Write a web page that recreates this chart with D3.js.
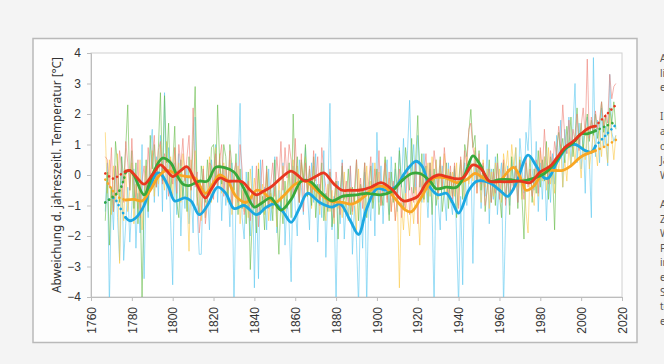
<!DOCTYPE html>
<html>
<head>
<meta charset="utf-8">
<script src="https://cdn.jsdelivr.net/npm/d3@7"></script>
<style>
  body { margin: 0; background: #f4f4f4; }
  svg { display: block; font-family: "Noto Sans", "Open Sans", sans-serif; }
</style>
</head>
<body>
<svg id="chart" width="664" height="364"></svg>
<script>

// first year of the annual series
const firstYear = 1767;

const xTicks = [1760, 1780, 1800, 1820, 1840, 1860, 1880, 1900, 1920, 1940, 1960, 1980, 2000, 2020];
const yTicks = [-4, -3, -2, -1, 0, 1, 2, 3, 4];
const yTitle = "Abweichung d. jahreszeitl. Temperatur [°C]";

// annual values 1767..2017 (rough)
const rawRed = [
  0.6, 0.5, -0.4, 0.9, -1.2, 0.3, -0.6, 0.8, 0.2, -0.9,
  1.1, 0.4, -0.5, 1.2, -0.3, -0.8, 0.5, -1.4, -0.2, 0.3,
  -0.6, 0.9, -0.1, 0.6, 1.3, -0.4, 0.8, 1.1, -0.3, 0.7,
  0.2, -0.7, 0.5, -0.3, 0.9, -0.6, 1.0, 0.3, 1.2, -0.2,
  0.6, 1.3, -0.5, 2.2, -0.4, 0.1, -1.9, -1.2, 0.2, -1.6,
  -0.9, 0.4, 0.3, -0.8, 0.7, -0.4, 0.5, 1.0, -0.7, 0.3,
  -0.5, 0.8, -1.1, 0.1, 0.4, -0.9, 1.0, 0.2, -1.3, -0.8,
  -0.2, -1.5, -0.6, -1.0, 0.3, -1.7, -0.4, 0.5, -0.9, 0.2,
  -1.1, -0.3, 0.4, -0.7, 0.6, -0.2, 1.1, -0.5, 0.9, -0.1,
  1.0, 0.5, -0.6, 1.2, -0.3, -0.9, 0.7, -1.2, 0.4, -0.5,
  0.3, -0.6, 0.8, -0.2, 0.6, -1.0, 0.9, 0.1, -0.4, -1.1,
  0.2, -0.9, -1.4, 0.1, -0.6, -1.3, 0.4, -0.8, -0.2, -1.0,
  0.3, -1.2, -0.4, 0.5, -0.9, -0.1, -1.1, 0.4, -0.7, -0.2,
  0.6, -0.8, 0.2, -0.5, 0.8, -1.0, -0.3, 0.4, -0.9, 0.1,
  -1.2, -0.2, -1.5, -0.6, 0.2, -1.4, -0.8, -1.1, 0.3, -1.3,
  -0.4, -0.9, 0.5, -1.6, 0.1, -0.6, -0.1, 0.7, -0.5, 0.4,
  -0.3, 0.8, 0.2, -0.6, 0.5, -0.4, 0.9, 0.1, -0.7, 0.3,
  -0.8, 0.4, -0.5, -1.1, 0.6, -0.2, 0.8, 0.3, 1.5, 1.7,
  0.9, 0.5, -0.6, 0.7, -0.3, 0.4, -1.0, -0.5, 0.2, -0.9,
  0.1, -0.6, 0.4, -0.8, -0.2, 0.5, -1.0, 0.2, -0.7, -0.1,
  -0.5, 0.3, -0.9, 0.4, -0.3, -0.8, 0.6, -0.4, 0.2, -0.7,
  -0.2, 0.5, -0.6, 0.9, 0.1, 1.5, 0.4, -0.3, 0.8, 0.2,
  1.1, 0.6, 1.6, 0.9, 2.3, 1.2, 0.7, 1.8, 0.9, 1.5,
  1.1, 2.0, 0.8, 1.6, 2.2, 1.3, 3.8, 1.2, 1.9, 1.4,
  2.1, 1.5, 1.8, 2.4, 1.6, 2.0, 1.7, 3.3, 2.5, 2.9,
  3.0
];

const rawGreen = [
  -1.5, 0.1, -2.3, -0.4, -1.2, 1.1, 0.3, -0.9, 0.6, -0.2,
  0.9, 2.3, -0.5, 0.8, -1.1, 0.4, -1.6, -0.3, -4.0, -0.8,
  0.5, -1.2, 1.3, 0.2, 1.0, -0.4, 0.9, 2.7, -0.2, 2.6,
  0.4, 1.7, -0.6, 0.3, 1.6, -0.9, -1.4, 0.5, -0.8, 0.2,
  -1.2, 0.6, -0.5, 1.1, 2.9, -0.7, -1.3, 0.3, -0.4, -0.9,
  0.5, -0.6, 0.9, 1.0, -0.2, 2.3, 0.4, -0.3, 1.0, 0.6,
  -0.8, 1.0, 0.3, -0.5, 0.7, -1.3, 0.2, -1.1, -0.4, -1.6,
  0.1, -3.1, -1.4, -0.6, -1.9, 0.2, -1.3, -0.7, -1.8, 0.3,
  -1.0, -0.4, -1.5, 0.5, -1.3, -2.6, -0.8, -1.6, -0.2, -1.1,
  0.4, -1.4, 2.0, -0.3, 0.6, -0.9, 0.5, -0.2, 1.0, -0.7,
  0.2, -1.0, 0.6, -1.4, -0.3, -0.8, 0.4, -1.5, -0.6, -1.2,
  0.1, -1.7, -0.9, -0.2, -2.1, -0.5, 0.3, -1.2, -0.8, 0.2,
  -1.3, -0.4, -0.9, 0.5, -1.5, -0.3, -0.7, 0.4, -1.4, -0.6,
  0.3, -1.1, -0.5, 0.2, -1.3, -0.6, -1.0, 0.6, -0.4, -1.5,
  0.1, -0.9, 0.4, -0.6, 0.8, -0.3, -1.1, 0.9, 0.2, -0.5,
  1.2, -0.6, 0.5, 1.95, -0.4, 0.7, -0.8, 0.3, -0.9, 0.4,
  -1.3, 0.2, -1.0, -0.3, 0.6, -1.2, -0.5, 0.4, -1.1, 0.1,
  -0.7, 0.3, -1.4, -0.2, 0.5, -0.8, 1.0, 0.6, 1.4, 2.15,
  0.9, 1.3, -0.2, 0.8, -0.5, 0.3, -1.2, -0.4, 0.5, -0.9,
  0.2, -1.0, 0.7, -0.6, -1.4, 0.4, -0.8, 0.1, -1.3, 0.6,
  -0.5, 0.3, -1.1, 0.5, -0.7, -2.1, 0.4, -0.3, 0.6, -0.9,
  0.2, -0.6, 0.8, -0.4, 0.5, -0.2, 1.1, -0.8, 0.6, 0.1,
  -1.8, 0.9, 1.4, 0.7, 1.2, 0.4, 1.6, 0.9, 1.9, 0.6,
  1.3, 2.2, 1.0, 1.7, 0.8, 1.5, 2.0, 1.1, 1.8, 1.3,
  2.0, 1.2, 1.6, 2.4, 1.4, 1.9, 1.3, 2.2, 1.7, 2.4,
  1.5
];

const rawBlue = [
  -1.2, 0.4, -4.3, -0.5, -1.8, 0.3, -1.4, -2.8, 0.6, -2.8,
  -1.6, -0.4, -2.2, -1.0, 0.2, -2.4, -0.6, -1.9, 1.0, -3.4,
  -0.3, -1.4, 0.8, 1.5, -0.9, 0.6, -0.7, 1.3, -1.2, 2.7,
  -0.8, 0.9, -1.5, -3.6, 0.4, -1.3, 0.7, -2.0, -0.2, -1.1,
  0.3, -1.6, -0.5, -1.9, 1.9, -1.2, -2.6, -2.6, 0.2, -1.4,
  -0.6, -1.8, 0.5, -0.4, 1.0, -0.9, 0.6, -1.5, 0.3, -1.0,
  -0.2, -1.7, 0.4, -4.3, -0.8, 0.2, 2.35, -1.4, -2.1, 0.1,
  -0.9, -2.0, 0.3, -3.7, -0.6, -3.4, 0.5, -1.2, -0.4, -1.8,
  0.2, -1.5, -0.7, 0.6, -1.9, -0.5, -1.2, 0.4, -2.3, -0.8,
  -1.6, -3.5, 0.3, -1.1, -2.0, 0.5, -0.4, -1.3, 0.9, -0.6,
  -1.8, 0.4, -0.9, 0.7, -2.2, -0.3, -1.4, 0.8, -2.7, -0.5,
  2.35, -1.8, -0.7, -4.3, -0.2, -1.6, 0.5, -2.1, -0.9, -1.3,
  0.3, -2.6, -1.0, -2.2, -4.3, -0.8, -2.4, 0.1, -4.3, -0.6,
  -1.5, 0.4, -2.0, 1.4, -0.9, 0.3, -1.6, -0.1, 0.5, -1.3,
  0.6, -0.8, 0.2, -1.2, 0.9, -0.4, 1.2, -0.6, 0.8, 2.45,
  0.1, 1.0, -0.5, 1.3, 0.4, -0.9, 0.7, -0.3, -1.4, 0.2,
  -1.1, -4.3, 0.5, -0.9, -1.8, 0.3, -0.6, -1.5, 0.4, -0.8,
  -1.3, 0.2, -2.0, -4.3, -0.7, -3.6, 0.4, -1.0, -0.2, 0.6,
  -2.9, 0.8, -0.4, 0.5, -1.1, 0.3, -0.7, 1.0, -1.6, 0.2,
  -0.8, 0.6, -1.3, -0.2, 0.4, -4.3, -1.5, 0.3, -1.0, 0.5,
  -0.4, 0.9, -0.9, 1.2, 0.3, -0.6, 1.4, 0.8, 2.45, 0.2,
  -0.5, 1.1, -1.2, 0.4, -0.8, 0.6, -1.5, 0.2, -0.9, 0.7,
  -0.3, 1.3, 0.5, 1.8, -0.4, 1.5, 0.7, 1.9, 0.3, 1.6,
  3.0, 0.4, 1.7, 0.2, 1.3, -0.6, 1.9, 0.5, -1.4, 3.85,
  0.6, 1.8, 0.4, 2.2, 0.9, 1.6, 0.3, 3.3, 1.4, 1.1,
  1.3
];

const rawOrange = [
  1.4, -0.6, 0.5, -1.3, 0.3, -0.9, 0.7, -2.9, -0.4, -1.5,
  0.2, -1.2, -0.5, 0.4, -1.6, -0.3, -1.1, 0.5, -1.8, -0.6,
  0.3, -1.0, -0.2, 0.8, -0.7, 0.5, -0.3, 1.0, 0.2, -0.5,
  1.1, -0.4, 0.6, -0.8, 0.9, -0.2, 0.4, -0.9, 0.7, 0.1,
  -0.6, -2.5, 0.5, -0.3, 0.8, -1.0, -0.2, -1.5, 0.3, -1.4,
  -0.5, 0.6, -0.9, 0.2, 0.9, -0.4, 0.7, -0.6, 0.4, -0.2,
  -0.9, 0.5, -1.3, -0.2, -1.1, 0.3, -1.6, -0.5, -1.2, -0.3,
  -1.4, 0.2, -0.8, -0.1, -1.0, 0.4, -0.9, -0.3, -1.3, 0.1,
  -1.5, -0.6, -1.1, -0.4, -1.7, -0.2, -0.9, 0.3, -1.2, -0.4,
  0.2, -0.8, 0.5, -0.6, 0.3, -0.9, 0.4, -0.2, 0.6, -0.7,
  -0.1, -1.1, 0.3, -0.8, -0.4, -1.3, 0.1, -0.9, -1.5, -0.3,
  -1.2, -0.5, -1.6, -0.2, -1.1, -0.7, -1.4, 0.1, -1.0, -1.5,
  -0.4, -1.3, -0.6, -1.8, 0.2, -0.9, -0.5, -1.2, 0.3, -0.8,
  -0.2, -0.9, 0.4, -0.6, 0.1, -1.0, -0.3, 0.5, -0.8, -0.1,
  -1.2, -0.4, -1.5, -0.7, -3.7, -0.9, -1.8, -0.6, -1.3, -2.0,
  -0.8, -1.6, -0.4, -1.1, -2.3, 0.1, -0.9, -0.2, 0.4, -0.7,
  0.6, -0.3, 0.5, -0.8, 0.3, -0.4, 0.7, -0.6, 0.2, -0.9,
  0.1, -0.7, 0.4, -1.0, 0.5, -0.2, -0.8, 0.6, -0.3, 0.4,
  -0.2, 0.9, -0.6, 0.3, -0.9, 0.5, -0.4, 0.2, -1.1, 0.1,
  -0.7, 0.4, -0.5, 0.2, -0.9, 0.7, 0.1, 0.8, -0.3, 1.0,
  0.3, 0.9, -0.4, 0.6, -0.8, -0.1, -1.2, -1.9, 0.2, -0.6,
  -1.0, 0.3, -0.7, 0.8, -0.2, 0.6, -0.5, 0.9, -0.3, 0.4,
  -0.6, 0.7, 0.1, 1.0, -0.4, 0.5, -0.2, 0.9, 0.3, 1.1,
  0.4, 1.3, 0.7, -0.1, 1.0, 0.5, 1.6, 0.2, 0.8, 1.4,
  0.9, 0.3, 1.5, 0.6, 1.8, 1.0, 0.4, 2.0, 1.2, 0.5,
  1.3
];

// smoothed curves [year, value]
const smoothRed = [
  [1767,0.05],[1769,-0.05],[1771,-0.12],[1774,0.0],[1777,0.12],[1779,0.15],[1782,-0.05],[1786,-0.3],
  [1790,0.0],[1794,0.33],[1797,0.15],[1800,-0.05],[1804,0.15],[1807,0.27],[1811,-0.2],[1816,-0.75],
  [1819,-0.45],[1823,-0.1],[1827,-0.2],[1831,-0.2],[1834,-0.22],[1838,-0.5],[1841,-0.65],[1844,-0.55],
  [1848,-0.4],[1853,-0.1],[1858,0.13],[1861,0.0],[1865,-0.2],[1870,-0.05],[1874,0.07],[1879,-0.3],
  [1883,-0.5],[1887,-0.5],[1891,-0.5],[1897,-0.4],[1902,-0.25],[1907,-0.45],[1913,-0.85],[1917,-0.8],
  [1920,-0.7],[1925,-0.2],[1930,0.0],[1934,-0.05],[1938,-0.12],[1942,-0.1],[1947,0.33],[1951,0.2],
  [1955,-0.2],[1960,-0.22],[1965,-0.22],[1970,-0.2],[1975,-0.25],[1980,0.1],[1985,0.3],[1988,0.55],
  [1992,0.9],[1996,1.1],[2000,1.35],[2004,1.55],[2007,1.6],[2012,1.95],[2017,2.3]
];
const smoothGreen = [
  [1767,-0.9],[1770,-0.75],[1774,-0.5],[1777,0.1],[1779,0.15],[1781,0.0],[1786,-0.65],[1790,0.0],
  [1795,0.55],[1799,0.4],[1802,0.0],[1805,-0.3],[1808,-0.35],[1813,-0.2],[1817,-0.2],[1821,0.25],
  [1825,0.25],[1830,0.1],[1833,-0.2],[1836,-0.6],[1840,-1.05],[1844,-0.9],[1848,-0.75],[1853,-1.15],
  [1858,-0.8],[1863,-0.2],[1867,-0.2],[1873,-0.6],[1878,-0.85],[1883,-0.7],[1890,-0.65],[1895,-0.6],
  [1902,-0.65],[1907,-0.55],[1912,-0.2],[1917,0.05],[1921,0.05],[1926,-0.2],[1929,-0.45],[1934,-0.4],
  [1939,-0.4],[1943,0.0],[1947,0.63],[1950,0.4],[1955,-0.2],[1960,-0.15],[1965,-0.15],[1970,-0.2],
  [1977,-0.1],[1982,0.05],[1986,0.3],[1992,0.85],[1996,1.05],[2000,1.35],[2003,1.35],[2007,1.45],
  [2012,1.6],[2017,1.75]
];
const smoothBlue = [
  [1767,-0.9],[1771,-0.75],[1774,-1.05],[1777,-1.4],[1779,-1.5],[1782,-1.4],[1786,-1.0],[1789,-0.4],
  [1792,0.05],[1794,0.05],[1798,-0.4],[1801,-0.85],[1806,-0.75],[1809,-0.85],[1813,-1.3],[1817,-1.0],
  [1822,-0.4],[1826,-0.6],[1830,-1.1],[1835,-1.0],[1841,-1.3],[1846,-1.05],[1850,-0.95],[1854,-1.2],
  [1858,-1.55],[1862,-1.1],[1866,-0.6],[1872,-0.9],[1878,-1.05],[1882,-0.95],[1887,-1.5],[1891,-1.95],
  [1895,-1.1],[1900,-0.45],[1905,-0.5],[1909,-0.4],[1914,0.1],[1919,0.45],[1922,0.3],[1926,-0.4],
  [1930,-0.65],[1934,-0.6],[1937,-0.9],[1940,-1.25],[1945,-0.5],[1949,-0.2],[1955,-0.25],[1961,-0.55],
  [1964,-0.7],[1968,-0.3],[1974,0.65],[1978,0.3],[1982,-0.1],[1984,-0.1],[1988,0.4],[1993,0.9],
  [1997,1.0],[2002,0.8],[2005,0.75],[2007,0.95],[2012,1.3],[2017,1.65]
];
const smoothOrange = [
  [1767,-0.15],[1769,-0.35],[1771,-0.55],[1774,-0.75],[1777,-0.82],[1781,-0.8],[1785,-0.85],[1789,-0.5],
  [1793,-0.05],[1797,0.15],[1803,0.0],[1807,-0.05],[1811,-0.1],[1816,-0.6],[1820,-0.25],[1823,0.0],
  [1827,-0.2],[1831,-0.7],[1836,-0.9],[1841,-0.5],[1844,-0.55],[1850,-0.9],[1854,-0.7],[1860,-0.3],
  [1865,-0.2],[1871,-0.55],[1877,-0.85],[1883,-0.9],[1888,-0.95],[1893,-0.75],[1899,-0.4],[1904,-0.4],
  [1908,-0.7],[1914,-1.15],[1917,-1.2],[1922,-0.7],[1928,-0.1],[1934,-0.1],[1939,-0.25],[1944,-0.15],
  [1948,0.05],[1951,-0.05],[1955,-0.2],[1960,-0.2],[1964,0.1],[1967,0.25],[1971,-0.2],[1973,-0.5],
  [1977,-0.35],[1981,0.05],[1985,0.15],[1991,0.15],[1995,0.3],[2000,0.6],[2007,0.8],[2012,0.95],
  [2017,1.15]
];

// dotted ends of the smoothed curves
const dotHeadEnd = 1777;
const dotTailStart = 2007;

// cut-off text at right edge of the screenshot
const sideText = ["Ab", "lich", "ent", "", "In", "au", "die", "Jah", "We", "", "Am", "Ze", "Win", "Fr", "im", "ei", "So", "ten", "er"];

const series = [
  { raw: rawBlue, smooth: smoothBlue, light: "#5cc8f0", dark: "#1ba8e2" },
  { raw: rawOrange, smooth: smoothOrange, light: "#fcc94a", dark: "#f9a623" },
  { raw: rawGreen, smooth: smoothGreen, light: "#68bd4a", dark: "#38a83a" },
  { raw: rawRed, smooth: smoothRed, light: "#ee8077", dark: "#e8371f" }
];

function drawChart() {
  const svg = d3.select("#chart");

  // outer frame
  svg.append("rect")
    .attr("x", 33).attr("y", 38.5)
    .attr("width", 604).attr("height", 304)
    .attr("fill", "#fdfdfd")
    .attr("stroke", "#b9b9b9")
    .attr("stroke-width", 1.5);

  const plotL = 91, plotR = 622, plotT = 53, plotB = 297;

  const x = d3.scaleLinear().domain([1760, 2020]).range([plotL, plotR]);
  const y = d3.scaleLinear().domain([-4, 4]).range([plotB, plotT]);

  svg.append("rect")
    .attr("x", plotL).attr("y", plotT)
    .attr("width", plotR - plotL).attr("height", plotB - plotT)
    .attr("fill", "#fff")
    .attr("stroke", "#d0d0d0");

  svg.append("clipPath").attr("id", "plotclip")
    .append("rect")
    .attr("x", plotL).attr("y", plotT)
    .attr("width", plotR - plotL).attr("height", plotB - plotT);

  const plot = svg.append("g").attr("clip-path", "url(#plotclip)");

  const rawLine = d3.line()
    .x(function(d, i) { return x(firstYear + i); })
    .y(function(d) { return y(d); });

  // thin annual lines first
  series.forEach(function(s) {
    plot.append("path")
      .attr("d", rawLine(s.raw))
      .attr("fill", "none")
      .attr("stroke", s.light)
      .attr("stroke-width", 1)
      .attr("stroke-opacity", 0.6);
  });

  const smoothLine = d3.line()
    .x(function(d) { return x(d[0]); })
    .y(function(d) { return y(d[1]); })
    .curve(d3.curveCatmullRom.alpha(0.5));

  series.forEach(function(s) {
    const head = s.smooth.filter(function(d) { return d[0] <= dotHeadEnd; });
    const mid = s.smooth.filter(function(d) { return d[0] >= dotHeadEnd && d[0] <= dotTailStart; });
    const tail = s.smooth.filter(function(d) { return d[0] >= dotTailStart; });

    [head, tail].forEach(function(part) {
      plot.append("path")
        .attr("d", smoothLine(part))
        .attr("fill", "none")
        .attr("stroke", s.dark)
        .attr("stroke-width", 2.6)
        .attr("stroke-linecap", "round")
        .attr("stroke-dasharray", "0.1,4.5");
    });

    plot.append("path")
      .attr("d", smoothLine(mid))
      .attr("fill", "none")
      .attr("stroke", s.dark)
      .attr("stroke-width", 2.8)
      .attr("stroke-linecap", "round");
  });

  // axes
  const yAxis = d3.axisLeft(y).tickValues(yTicks).tickSize(4).tickPadding(6);
  const xAxis = d3.axisBottom(x).tickValues(xTicks).tickSize(4).tickFormat(d3.format("d"));

  const gy = svg.append("g")
    .attr("transform", "translate(" + plotL + ",0)")
    .call(yAxis);
  gy.select(".domain").attr("stroke", "#bdbdbd");
  gy.selectAll(".tick line").attr("stroke", "#bdbdbd");
  gy.selectAll("text").attr("fill", "#333").style("font-size", "12px");

  const gx = svg.append("g")
    .attr("transform", "translate(0," + plotB + ")")
    .call(xAxis);
  gx.select(".domain").attr("stroke", "#bdbdbd");
  gx.selectAll(".tick line").attr("stroke", "#bdbdbd");
  gx.selectAll("text")
    .attr("fill", "#333")
    .style("font-size", "12px")
    .attr("transform", "rotate(-90)")
    .attr("x", -10)
    .attr("y", 0)
    .attr("dy", "0.35em")
    .style("text-anchor", "end");

  svg.append("text")
    .attr("transform", "translate(61," + ((plotT + plotB) / 2) + ") rotate(-90)")
    .attr("text-anchor", "middle")
    .attr("fill", "#333")
    .style("font-size", "11.8px")
    .text(yTitle);

  // side text clipped by the window edge
  svg.append("g").selectAll("text")
    .data(sideText)
    .enter().append("text")
    .attr("x", 660)
    .attr("y", function(d, i) { return 62 + i * 14.6; })
    .attr("fill", "#555")
    .style("font-size", "10px")
    .text(function(d) { return d; });
}

drawChart();

</script>
</body>
</html>
